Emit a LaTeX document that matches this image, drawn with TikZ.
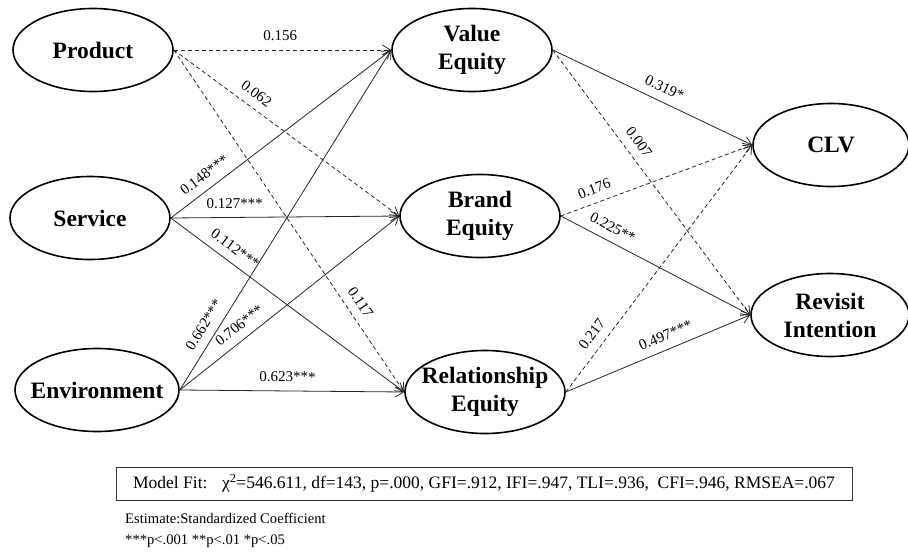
\documentclass[tikz,border=0pt]{standalone}
\usepackage{fontspec}
\setmainfont{Liberation Serif}
\usetikzlibrary{arrows.meta,shapes.geometric}
\tikzset{
  latent/.style={ellipse, draw=black, line width=1.6pt, minimum width=160pt, minimum height=83pt, inner xsep=-30pt, inner ysep=-10pt, align=center, font=\fontsize{23.5}{28}\selectfont\bfseries},
  sig/.style={-{Straight Barb[length=8pt,width=10pt]}, line width=0.8pt, draw=black!85},
  nsig/.style={sig, dash pattern=on 4pt off 3pt}, % non-significant paths
  coef/.style={font=\fontsize{15}{17}\selectfont, sloped, above=8pt, inner sep=0.5pt},
  fitbox/.style={rectangle, draw=black!80, line width=0.8pt, minimum width=736pt, minimum height=33pt, font=\fontsize{17.5}{20}\selectfont},
  note/.style={anchor=west, inner sep=0pt, font=\fontsize{14.6}{17}\selectfont}
}
\begin{document}
\begin{tikzpicture}[x=1pt, y=-1pt]
  \useasboundingbox (0,0) rectangle (908,554);

  % Exogenous constructs
  \node[latent] (prod) at (93,50)  {Product};
  \node[latent] (serv) at (90,218) {Service};
  \node[latent, minimum width=164pt] (env) at (97,390) {Environment};

  % Customer equity
  \node[latent] (val) at (472,50)  {Value\\Equity};
  \node[latent] (brd) at (480,216) {Brand\\Equity};
  \node[latent] (rel) at (485,392) {Relationship\\Equity};

  % Outcomes
  \node[latent, minimum width=156pt] (clv) at (831,145) {CLV};
  \node[latent, minimum width=158pt] (rev) at (830,315) {Revisit\\Intention};

  % Product paths
  \draw[nsig] (prod.east) -- node[coef, pos=0.49] {0.156} (val.west);
  \draw[nsig] (prod.east) -- node[coef, pos=0.33] {0.062} (brd.west);
  \draw[nsig] (prod.east) -- node[coef, pos=0.76] {0.117} (rel.west);

  % Service paths
  \draw[sig] (serv.east) -- node[coef, pos=0.19] {0.148***} (val.west);
  \draw[sig] (serv.east) -- node[coef, pos=0.28] {0.127***} (brd.west);
  \draw[sig] (serv.east) -- node[coef, pos=0.24] {0.112***} (rel.west);

  % Environment paths
  \draw[sig] (env.east) -- node[coef, pos=0.17] {0.662***} (val.west);
  \draw[sig] (env.east) -- node[coef, pos=0.31] {0.706***} (brd.west);
  \draw[sig] (env.east) -- node[coef, pos=0.48] {0.623***} (rel.west);

  % Equity -> outcomes
  \draw[sig]  (val.east) -- node[coef, pos=0.53] {0.319*} (clv.west);
  \draw[nsig] (val.east) -- node[coef, pos=0.38] {0.007} (rev.west);
  \draw[nsig] (brd.east) -- node[coef, pos=0.2] {0.176} (clv.west);
  \draw[sig]  (brd.east) -- node[coef, pos=0.24] {0.225**} (rev.west);
  \draw[nsig] (rel.east) -- node[coef, pos=0.2] {0.217} (clv.west);
  \draw[sig]  (rel.east) -- node[coef, pos=0.57] {0.497***} (rev.west);

  % Fit indices and notes
  \node[fitbox] (fit) at (484,483.5) {Model Fit:~~ χ\textsuperscript{2}=546.611, df=143, p=.000, GFI=.912, IFI=.947, TLI=.936,~ CFI=.946, RMSEA=.067};
  \node[note] (est) at (125,518) {Estimate:Standardized Coefficient};
  \node[note] (pval) at (125,541) {***p<.001 **p<.01 *p<.05};
\end{tikzpicture}
\end{document}
